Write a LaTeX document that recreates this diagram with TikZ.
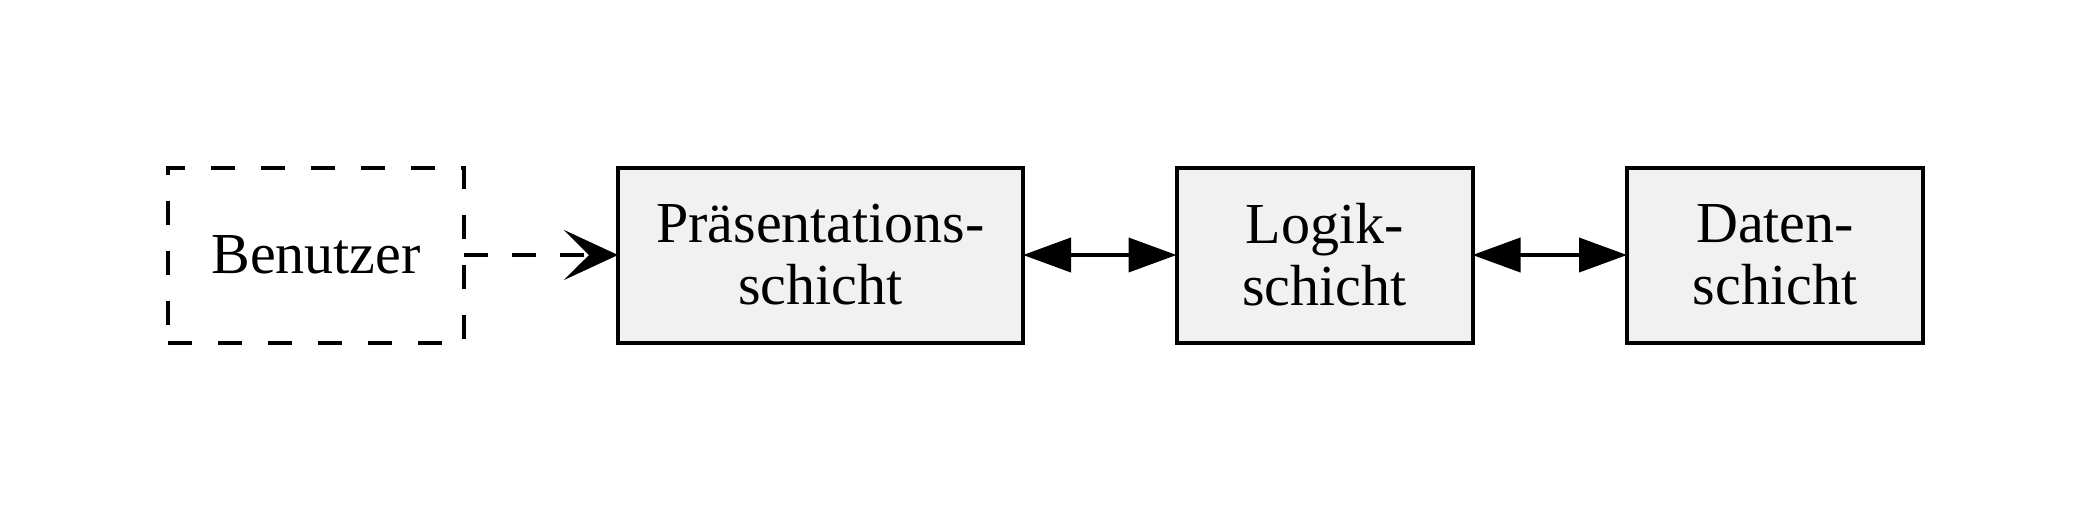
\documentclass[tikz,border=0pt]{standalone}
\usepackage{fontspec}
\setmainfont{Liberation Serif}
\usetikzlibrary{arrows.meta}
\definecolor{boxfill}{HTML}{F1F1F1}
\tikzset{
  layer/.style={draw, line width=2pt, fill=boxfill, rectangle, minimum height=87.5pt, inner sep=0pt, outer sep=0pt, align=center, font=\fontsize{29}{31}\selectfont},
  userbox/.style={draw, line width=2pt, dash pattern=on 12pt off 13pt, rectangle, minimum width=148pt, minimum height=87.5pt, inner sep=0pt, outer sep=0pt, align=center, font=\fontsize{29}{31}\selectfont},
  biarrow/.style={line width=2pt, {Triangle[length=24pt,width=17pt]}-{Triangle[length=24pt,width=17pt]}},
  userarrow/.style={line width=2pt, dash pattern=on 12pt off 12pt, -{Stealth[length=27pt,width=25pt,inset=12.5pt]}}
}
\begin{document}
\begin{tikzpicture}[x=0.5pt,y=-0.5pt]
\useasboundingbox (0,0) rectangle (2092,509);
\node[userbox] (ben) at (316,255) {Benutzer};
\node[layer, minimum width=202.5pt] (pres) at (820.5,255) {Präsentations-\\schicht};
\node[layer, minimum width=148pt] (logik) at (1324.5,255) {Logik-\\schicht};
\node[layer, minimum width=148pt] (daten) at (1775,255) {Daten-\\schicht};
\draw[userarrow] (ben.east) -- (pres.west);
\draw[biarrow] (pres.east) -- (logik.west);
\draw[biarrow] (logik.east) -- (daten.west);
\end{tikzpicture}
\end{document}
